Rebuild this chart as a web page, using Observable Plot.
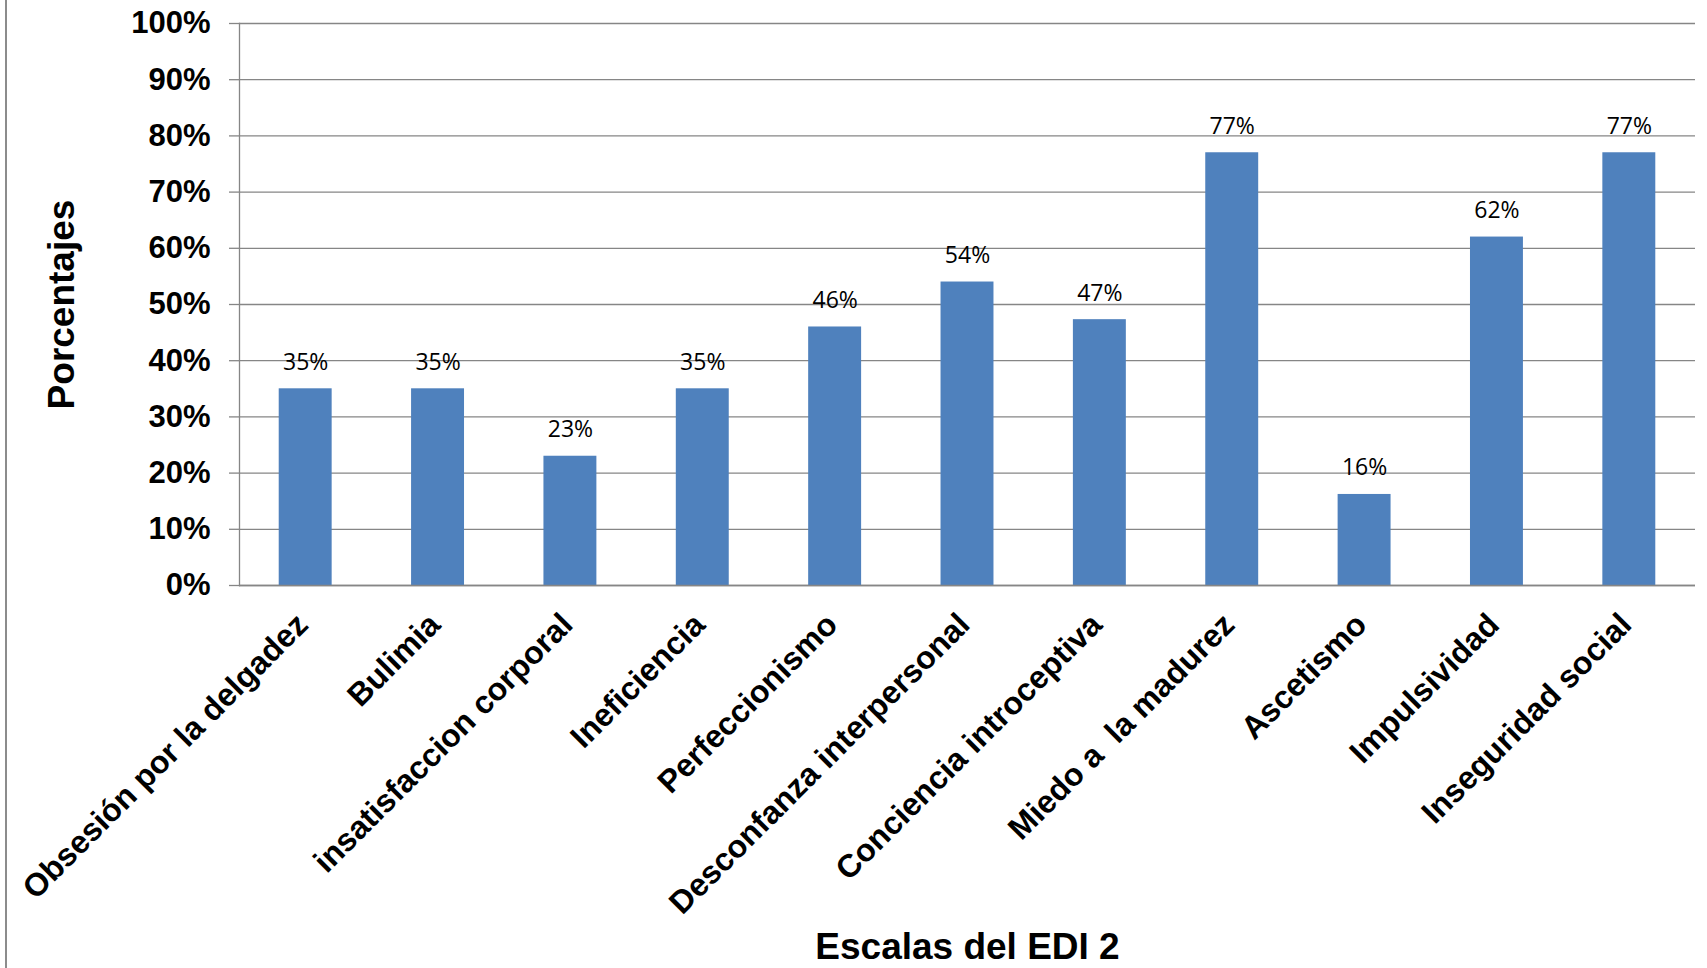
<!DOCTYPE html>
<html><head><meta charset="utf-8">
<script src="https://cdn.jsdelivr.net/npm/d3@7"></script>
<script src="https://cdn.jsdelivr.net/npm/@observablehq/plot@0.6"></script>
<style>
html,body{margin:0;padding:0;background:#fff;}
#chart{position:relative;width:1707px;height:968px;overflow:hidden;}
#chart::before{content:"";position:absolute;left:5px;top:0;bottom:0;width:2px;background:#8c8c8c;}
</style></head><body><div id="chart"></div>
<script>
const categories = [
  "Obsesión por la delgadez",
  "Bulimia",
  "insatisfaccion corporal",
  "Ineficiencia",
  "Perfeccionismo",
  "Desconfanza interpersonal",
  "Conciencia introceptiva",
  "Miedo a  la madurez",
  "Ascetismo",
  "Impulsividad",
  "Inseguridad social"
];
const values = [0.35, 0.35, 0.23, 0.35, 0.46, 0.54, 0.473, 0.77, 0.162, 0.62, 0.77];
const yTicks = [0, 0.1, 0.2, 0.3, 0.4, 0.5, 0.6, 0.7, 0.8, 0.9, 1];
const xTitle = "Escalas del EDI 2";
const yTitle = "Porcentajes";

const data = categories.map((c, i) => ({escala: c, valor: values[i]}));
const pct = d3.format(".0%");
const gray = "#868686";

const chart = Plot.plot({
  width: 1707,
  height: 968,
  marginLeft: 239,
  marginRight: 12,
  marginTop: 23,
  marginBottom: 383,
  style: {fontFamily: "'Liberation Sans', Arial, sans-serif", color: "#000", background: "transparent", overflow: "visible"},
  x: {domain: categories, paddingInner: 0.6, paddingOuter: 0.3, round: false},
  y: {domain: [0, 1]},
  marks: [
    Plot.gridY(yTicks, {stroke: gray, strokeOpacity: 1, strokeWidth: 1.3}),
    Plot.axisY(yTicks, {tickFormat: pct, tickSize: 10, tickPadding: 19, fontSize: 31, fontWeight: "bold", stroke: gray, strokeWidth: 1.3, fill: "#000", label: null}),
    Plot.frame({anchor: "left", stroke: gray, strokeWidth: 1.3}),
    Plot.barY(data, {x: "escala", y: "valor", fill: "#4F81BD"}),
    Plot.ruleY([0], {stroke: gray, strokeWidth: 1.3}),
    Plot.axisX({tickRotate: -45, textAnchor: "end", lineAnchor: "top", tickSize: 0, tickPadding: 25, dx: -12, fontSize: 32, fontWeight: "bold", fill: "#000", label: null}),
    Plot.text(data, {x: "escala", y: "valor", text: d => pct(d.valor), dy: -19, lineAnchor: "bottom", fontSize: 23, fontFamily: "'Open Sans', sans-serif", fill: "#000"}),
    Plot.text([yTitle], {frameAnchor: "left", dx: -177, rotate: -90, textAnchor: "middle", lineAnchor: "middle", fontSize: 37, fontWeight: "bold", fill: "#000"}),
    Plot.text([xTitle], {frameAnchor: "bottom", dy: 362, textAnchor: "middle", lineAnchor: "middle", fontSize: 37, fontWeight: "bold", fill: "#000"})
  ]
});
document.getElementById("chart").appendChild(chart);
</script>
</body></html>
